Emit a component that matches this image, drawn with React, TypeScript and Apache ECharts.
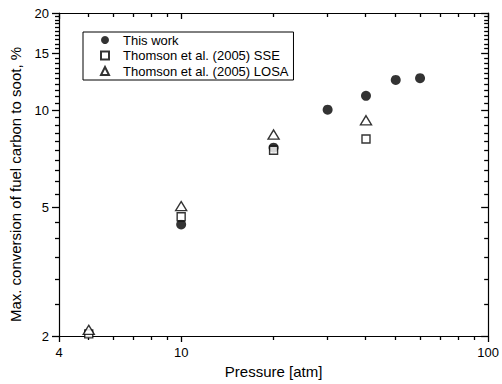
import React, { useEffect, useRef } from "react";
import * as echarts from "echarts";

// Data
const pressureThisWork = [10, 20, 30, 40, 50, 60];
const conversionThisWork = [4.43, 7.66, 10.04, 11.08, 12.41, 12.57];

const pressureSSE = [5, 10, 20, 40];
const conversionSSE = [2.03, 4.68, 7.52, 8.15];

const pressureLOSA = [5, 10, 20, 40];
const conversionLOSA = [2.09, 5.05, 8.41, 9.31];

// Tick values
const xMajorTicks = [4, 10, 100];
const xMinorTicks = [5, 6, 7, 8, 9, 20, 30, 40, 50, 60, 70, 80, 90];
const yMajorTicks = [2, 5, 10, 15, 20];
const yMinorTicks = [
  2.5, 3, 3.5, 4, 4.5, 5.5, 6, 6.5, 7, 7.5, 8, 8.5, 9, 9.5, 10.5, 11, 11.5, 12,
  12.5, 13, 13.5, 14, 14.5, 15.5, 16, 16.5, 17, 17.5, 18, 18.5, 19, 19.5,
];

const FONT = "'Liberation Sans', Arial, sans-serif";
const BLACK = "#000";
const MINOR_LEN = 4;
const TICK_W = 1.3;

function makeXAxis(position: "bottom" | "top", ticks: number[], len: number, inside: boolean, showLabel: boolean) {
  return {
    type: "log",
    logBase: 10,
    min: 4,
    max: 100,
    position,
    splitLine: { show: false },
    axisLine: { show: true, onZero: false, lineStyle: { color: BLACK, width: 1.2 } },
    axisTick: { show: true, inside, length: len, customValues: ticks, lineStyle: { color: BLACK, width: TICK_W } },
    axisLabel: {
      show: true,
      customValues: ticks,
      color: showLabel ? BLACK : "transparent",
      fontSize: 13,
      fontFamily: FONT,
      margin: 10,
      formatter: showLabel ? (v: number) => String(v) : () => "",
    },
  } as any;
}

function makeYAxis(position: "left" | "right", ticks: number[], len: number, inside: boolean, showLabel: boolean) {
  return {
    type: "log",
    logBase: 10,
    min: 2,
    max: 20,
    position,
    splitLine: { show: false },
    axisLine: { show: true, onZero: false, lineStyle: { color: BLACK, width: 1.2 } },
    axisTick: { show: true, inside, length: len, customValues: ticks, lineStyle: { color: BLACK, width: TICK_W } },
    axisLabel: {
      show: true,
      customValues: ticks,
      color: showLabel ? BLACK : "transparent",
      fontSize: 13,
      fontFamily: FONT,
      margin: 10,
      formatter: showLabel ? (v: number) => String(v) : () => "",
    },
  } as any;
}

const crisp = (v: number) => Math.floor(v) + 0.5;

export default function App() {
  const ref = useRef<HTMLDivElement>(null);

  useEffect(() => {
    if (!ref.current) return;
    const chart = echarts.init(ref.current, undefined, { renderer: "svg" });

    const xMain = makeXAxis("bottom", xMajorTicks, 6, false, true);
    xMain.name = "Pressure [atm]";
    xMain.nameLocation = "middle";
    xMain.nameGap = 28;
    xMain.nameTextStyle = { color: BLACK, fontSize: 15, fontFamily: FONT };

    const yMain = makeYAxis("left", yMajorTicks, 7, false, true);
    yMain.name = "Max. conversion of fuel carbon to soot, %";
    yMain.nameLocation = "middle";
    yMain.nameGap = 36;
    yMain.nameTextStyle = { color: BLACK, fontSize: 15, fontFamily: FONT, padding: [0, 20, 0, 0] };

    const tickStyle = { stroke: BLACK, lineWidth: TICK_W };

    const option: any = {
      animation: false,
      backgroundColor: "#fff",
      textStyle: { fontFamily: FONT },
      grid: { left: 58, right: 12, top: 13, bottom: 46, containLabel: false },
      xAxis: [xMain, makeXAxis("top", xMajorTicks, 6, true, false)],
      yAxis: [yMain, makeYAxis("right", yMajorTicks, 7, true, false)],
      legend: {
        orient: "vertical",
        left: 83,
        top: 32,
        padding: [1, 5, 2, 17],
        itemGap: 1.5,
        itemWidth: 8,
        itemHeight: 8,
        borderColor: BLACK,
        borderWidth: 1,
        borderRadius: 0,
        textStyle: { color: BLACK, fontSize: 13, fontFamily: FONT, lineHeight: 14, padding: [0, 0, 0, 9] },
        data: ["This work", "Thomson et al. (2005) SSE", "Thomson et al. (2005) LOSA"],
      },
      series: [
        {
          name: "xMinorTicks",
          type: "custom",
          coordinateSystem: "cartesian2d",
          xAxisIndex: 0,
          yAxisIndex: 0,
          clip: false,
          z: 1,
          data: xMinorTicks.map((v) => [v, 2]),
          renderItem: (params: any, api: any) => {
            const cs = params.coordSys;
            const p = api.coord([api.value(0), api.value(1)]);
            const x = crisp(p[0]);
            const top = cs.y;
            const bottom = cs.y + cs.height;
            return {
              type: "group",
              children: [
                { type: "line", shape: { x1: x, y1: bottom, x2: x, y2: bottom + MINOR_LEN }, style: tickStyle },
                { type: "line", shape: { x1: x, y1: top, x2: x, y2: top + MINOR_LEN }, style: tickStyle },
              ],
            };
          },
        },
        {
          name: "yMinorTicks",
          type: "custom",
          coordinateSystem: "cartesian2d",
          xAxisIndex: 0,
          yAxisIndex: 0,
          clip: false,
          z: 1,
          data: yMinorTicks.map((v) => [4, v]),
          renderItem: (params: any, api: any) => {
            const cs = params.coordSys;
            const p = api.coord([api.value(0), api.value(1)]);
            const y = crisp(p[1]);
            const left = cs.x;
            const right = cs.x + cs.width;
            return {
              type: "group",
              children: [
                { type: "line", shape: { x1: left - MINOR_LEN, y1: y, x2: left, y2: y }, style: tickStyle },
                { type: "line", shape: { x1: right - MINOR_LEN, y1: y, x2: right, y2: y }, style: tickStyle },
              ],
            };
          },
        },
        {
          name: "This work",
          type: "scatter",
          symbol: "circle",
          symbolSize: 10,
          itemStyle: { color: BLACK, borderColor: BLACK, borderWidth: 0 },
          data: pressureThisWork.map((p, i) => [p, conversionThisWork[i]]),
          z: 3,
        },
        {
          name: "Thomson et al. (2005) SSE",
          type: "scatter",
          symbol: "rect",
          symbolSize: 8,
          itemStyle: { color: "#fff", borderColor: BLACK, borderWidth: 1.4 },
          data: pressureSSE.map((p, i) => [p, conversionSSE[i]]),
          z: 4,
        },
        {
          name: "Thomson et al. (2005) LOSA",
          type: "scatter",
          symbol: "triangle",
          symbolSize: [11, 9],
          itemStyle: { color: "#fff", borderColor: BLACK, borderWidth: 1.4 },
          data: pressureLOSA.map((p, i) => [p, conversionLOSA[i]]),
          z: 5,
        },
      ],
    };

    chart.setOption(option);
    return () => chart.dispose();
  }, []);

  return <div ref={ref} style={{ width: 502, height: 384, position: "absolute", left: 0, top: 0 }} />;
}
